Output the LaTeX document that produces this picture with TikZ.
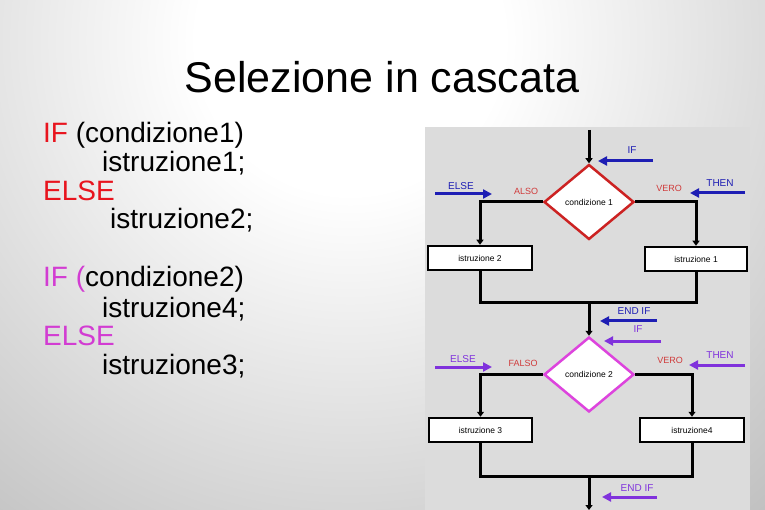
\documentclass[tikz,border=0pt]{standalone}
\usepackage{fontspec}
\setmainfont{Liberation Sans}
\usetikzlibrary{arrows.meta,shapes.geometric}
\definecolor{panelgray}{HTML}{DCDCDC}
\definecolor{ifred}{HTML}{E8141E}
\definecolor{ifmagenta}{HTML}{D23CD2}
\definecolor{condred}{HTML}{CC2222}
\definecolor{condmagenta}{HTML}{DD44DD}
\definecolor{labelred}{HTML}{D03A3A}
\definecolor{markblue}{HTML}{1E1EB4}
\definecolor{markpurple}{HTML}{8032DC}
\pgfdeclareradialshading{slidebg}{\pgfpoint{0bp}{0bp}}{color(0bp)=(white); color(6bp)=(white); color(50bp)=(black!58)}

\begin{document}
\begin{tikzpicture}[x=1pt, y=-1pt,
    cond/.style={diamond, draw, line width=2.5pt, fill=white, minimum width=90pt, minimum height=75pt, inner sep=1pt, font=\fontsize{8.5}{10}\selectfont},
    instr/.style={draw=black, line width=2.5pt, fill=white, minimum height=24pt, inner sep=1pt, font=\fontsize{8.5}{10}\selectfont},
    flow/.style={line width=3pt, -{Triangle[length=5pt,width=7pt]}},
    tagarrow/.style={line width=3pt, -{Triangle[length=9pt,width=9pt]}},
    tag/.style={font=\fontsize{10}{12}\selectfont},
    verdict/.style={font=\fontsize{9}{11}\selectfont, text=labelred},
    code/.style={anchor=base west, inner sep=0pt, font=\fontsize{28}{30}\selectfont},
]
\useasboundingbox (0,0) rectangle (765,510);
\begin{scope}
\clip (0,0) rectangle (765,510);
\shade[shading=slidebg] (350,40) circle (640);
\end{scope}
\fill[panelgray] (425,127) rectangle (750,510);

\node[anchor=base, font=\fontsize{43}{48}\selectfont] (title) at (382,93) {Selezione in cascata};

\node[code] (if1) at (43,143) {\textcolor{ifred}{IF} (condizione1)};
\node[code] (then1) at (102,172) {istruzione1;};
\node[code] (else1) at (43,201) {\textcolor{ifred}{ELSE}};
\node[code] (other1) at (110,229) {istruzione2;};
\node[code] (if2) at (43,287) {\textcolor{ifmagenta}{IF (}condizione2)};
\node[code] (then2) at (102,317) {istruzione4;};
\node[code] (else2) at (43,345) {\textcolor{ifmagenta}{ELSE}};
\node[code] (other2) at (102,374) {istruzione3;};

\node[cond, draw=condred] (cond1) at (589,202) {condizione 1};
\node[instr, minimum width=104pt] (instr2) at (480,258) {istruzione 2};
\node[instr, minimum width=102pt] (instr1) at (696,259) {istruzione 1};
\node[cond, draw=condmagenta] (cond2) at (589,374.5) {condizione 2};
\node[instr, minimum width=103pt] (instr3) at (480.5,430) {istruzione 3};
\node[instr, minimum width=104pt] (instr4) at (692,430) {istruzione4};

\coordinate (start) at (589,130);
\coordinate (join1) at (589,303);
\coordinate (join2) at (589,476);
\coordinate (stop) at (589,510);

\draw[flow] (start) -- (cond1.north);
\draw[flow] (cond1.west) -| (instr2.north);
\draw[flow] (cond1.east) -| (instr1.north);
\draw[line width=3pt] (instr2.south) |- (join1) -| (instr1.south);
\draw[flow] (join1) -- (cond2.north);
\draw[flow] (cond2.west) -| (instr3.north);
\draw[flow] (cond2.east) -| (instr4.north);
\draw[line width=3pt] (instr3.south) |- (join2) -| (instr4.south);
\draw[flow] (join2) -- (stop);

\node[tag, text=markblue] (tagif1) at (632,150) {IF};
\node[tag, text=markblue] (tagelse1) at (461,186) {ELSE};
\node[verdict] (false1) at (526,191) {ALSO};
\node[verdict] (true1) at (669,188) {VERO};
\node[tag, text=markblue] (tagthen1) at (720,183) {THEN};
\node[tag, text=markblue] (tagend1) at (634,311) {END IF};
\node[tag, text=markpurple] (tagif2) at (638,329) {IF};
\node[tag, text=markpurple] (tagelse2) at (463,359) {ELSE};
\node[verdict] (false2) at (523,363) {FALSO};
\node[verdict] (true2) at (670,360) {VERO};
\node[tag, text=markpurple] (tagthen2) at (720,355) {THEN};
\node[tag, text=markpurple] (tagend2) at (637,488) {END IF};

\coordinate (if1a) at (653,161); \coordinate (if1b) at (598,161);
\coordinate (else1a) at (435,194); \coordinate (else1b) at (492,194);
\coordinate (then1a) at (745,193); \coordinate (then1b) at (690,193);
\coordinate (end1a) at (657,321); \coordinate (end1b) at (600,321);
\coordinate (if2a) at (661,341); \coordinate (if2b) at (604,341);
\coordinate (else2a) at (435,367); \coordinate (else2b) at (492,367);
\coordinate (then2a) at (745,365); \coordinate (then2b) at (689,365);
\coordinate (end2a) at (657,497); \coordinate (end2b) at (602,497);

\draw[tagarrow, markblue] (if1a) -- (if1b);
\draw[tagarrow, markblue] (else1a) -- (else1b);
\draw[tagarrow, markblue] (then1a) -- (then1b);
\draw[tagarrow, markblue] (end1a) -- (end1b);
\draw[tagarrow, markpurple] (if2a) -- (if2b);
\draw[tagarrow, markpurple] (else2a) -- (else2b);
\draw[tagarrow, markpurple] (then2a) -- (then2b);
\draw[tagarrow, markpurple] (end2a) -- (end2b);
\end{tikzpicture}
\end{document}
